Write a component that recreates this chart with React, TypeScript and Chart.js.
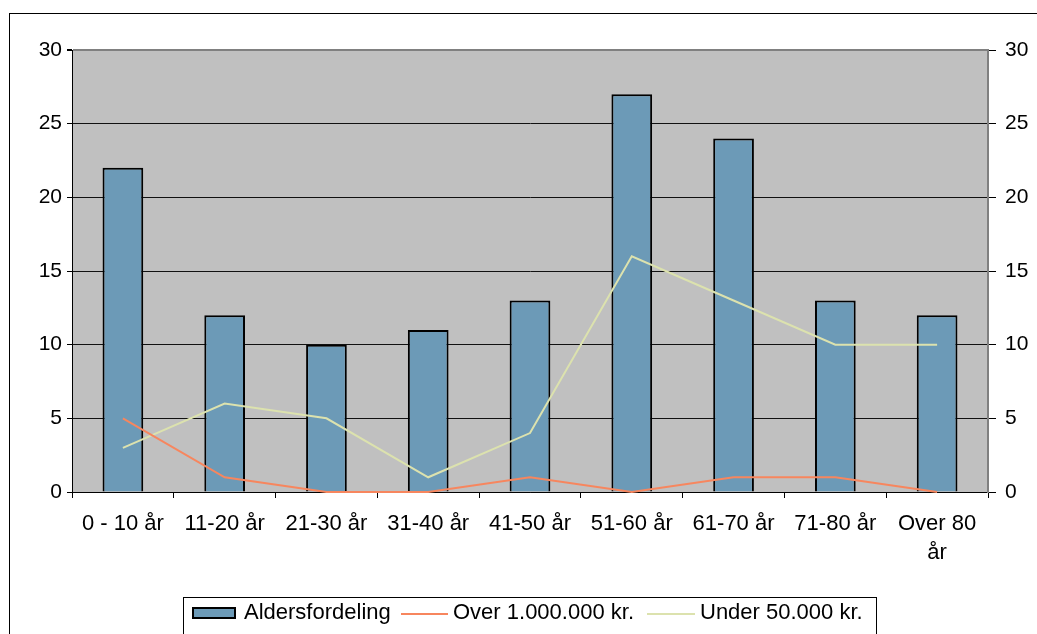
import React, { useEffect, useRef } from "react";
import { Chart, registerables } from "chart.js";

Chart.register(...registerables);

const categories: (string | string[])[] = [
  "0 - 10 år", "11-20 år", "21-30 år", "31-40 år", "41-50 år",
  "51-60 år", "61-70 år", "71-80 år", ["Over 80", "år"],
];
const aldersfordeling = [22, 12, 10, 11, 13, 27, 24, 13, 12];
const over1mio = [5, 1, 0, 0, 1, 0, 1, 1, 0];
const under50k = [3, 6, 5, 1, 4, 16, 13, 10, 10];
const seriesLabels = ["Aldersfordeling", "Over 1.000.000 kr.", "Under 50.000 kr."];

const FONT = "Liberation Sans, Arial, sans-serif";
const BAR_COLOR = "#6C9AB7";
const ORANGE = "#F7865E";
const GREEN = "#DCE2AE";

const framePlugin = {
  id: "frame",
  beforeDraw(chart: any) {
    const { ctx, chartArea } = chart;
    ctx.save();
    ctx.fillStyle = "#ffffff";
    ctx.fillRect(0, 0, chart.width, chart.height);
    ctx.strokeStyle = "#000";
    ctx.lineWidth = 1;
    ctx.strokeRect(9.5, 13.5, chart.width + 10, chart.height + 10);
    ctx.fillStyle = "#C0C0C0";
    ctx.fillRect(chartArea.left, chartArea.top, chartArea.right - chartArea.left, chartArea.bottom - chartArea.top);
    ctx.restore();
  },
  afterDraw(chart: any) {
    const { ctx } = chart;
    ctx.save();
    ctx.strokeStyle = "#000";
    ctx.lineWidth = 1;
    ctx.strokeRect(183.5, 597.5, 693, 60);
    const cy = 613;
    ctx.font = `22px ${FONT}`;
    ctx.textBaseline = "middle";
    ctx.textAlign = "left";
    ctx.fillStyle = BAR_COLOR;
    ctx.fillRect(192, 607, 44, 12);
    ctx.strokeStyle = "#000";
    ctx.lineWidth = 2;
    ctx.strokeRect(193, 608, 42, 10);
    ctx.fillStyle = "#000";
    ctx.fillText(seriesLabels[0], 244, cy);
    ctx.strokeStyle = ORANGE;
    ctx.lineWidth = 2;
    ctx.beginPath();
    ctx.moveTo(401, cy + 1);
    ctx.lineTo(448, cy + 1);
    ctx.stroke();
    ctx.fillText(seriesLabels[1], 453, cy);
    ctx.strokeStyle = GREEN;
    ctx.beginPath();
    ctx.moveTo(647, cy + 1);
    ctx.lineTo(695, cy + 1);
    ctx.stroke();
    ctx.fillText(seriesLabels[2], 700, cy);
    ctx.restore();
  },
};

export default function App() {
  const ref = useRef<HTMLCanvasElement>(null);
  useEffect(() => {
    document.body.style.margin = "0";
    const chart = new Chart(ref.current!, {
      type: "bar",
      data: {
        labels: categories as any,
        datasets: [
          {
            type: "line",
            label: seriesLabels[1],
            data: over1mio,
            borderColor: ORANGE,
            borderWidth: 2,
            pointRadius: 0,
            tension: 0,
            clip: false,
            yAxisID: "y",
            order: 0,
          },
          {
            type: "line",
            label: seriesLabels[2],
            data: under50k,
            borderColor: GREEN,
            borderWidth: 2,
            pointRadius: 0,
            tension: 0,
            clip: false,
            yAxisID: "y",
            order: 0,
          },
          {
            type: "bar",
            label: seriesLabels[0],
            data: aldersfordeling,
            backgroundColor: BAR_COLOR,
            borderColor: "#000",
            borderWidth: 2,
            barPercentage: 0.4,
            categoryPercentage: 1,
            yAxisID: "y",
            order: 1,
          } as any,
        ],
      },
      options: {
        animation: false,
        responsive: false,
        devicePixelRatio: 1,
        layout: { padding: { left: 0, right: 0, top: 50, bottom: 0 } },
        plugins: { legend: { display: false }, tooltip: { enabled: false } },
        scales: {
          x: {
            offset: true,
            grid: {
              offset: true,
              drawOnChartArea: false,
              tickLength: 6,
              tickColor: "#000",
            },
            border: { color: "#000", width: 1 },
            ticks: {
              color: "#000",
              font: { family: FONT, size: 22, lineHeight: 1.3 },
              padding: 12,
              maxRotation: 0,
              autoSkip: false,
            },
            afterFit(scale: any) {
              scale.height = 142;
            },
          },
          y: {
            position: "left",
            min: 0,
            max: 30,
            ticks: {
              stepSize: 5,
              color: "#000",
              font: { family: FONT, size: 21 },
              padding: 5,
            },
            grid: {
              color: (c: any) => (c.tick && c.tick.value === 30 ? "#808080" : "#111"),
              lineWidth: (c: any) => (c.tick && c.tick.value === 30 ? 2 : 1),
              tickColor: "#000",
              tickLength: 5,
            },
            border: { color: "#000", width: 1 },
            afterFit(scale: any) {
              scale.width = 72;
            },
          },
          y1: {
            position: "right",
            min: 0,
            max: 30,
            ticks: {
              stepSize: 5,
              color: "#000",
              font: { family: FONT, size: 21 },
              padding: 9,
            },
            grid: {
              drawOnChartArea: false,
              tickColor: "#000",
              tickLength: 8,
            },
            border: { color: "#808080", width: 2 },
            afterFit(scale: any) {
              scale.width = 1037 - 988;
            },
          },
        },
      },
      plugins: [framePlugin],
    } as any);
    return () => chart.destroy();
  }, []);
  return (
    <div style={{ position: "absolute", left: 0, top: 0, width: 1037, height: 634 }}>
      <canvas ref={ref} width={1037} height={634} style={{ width: 1037, height: 634, display: "block" }} />
    </div>
  );
}
